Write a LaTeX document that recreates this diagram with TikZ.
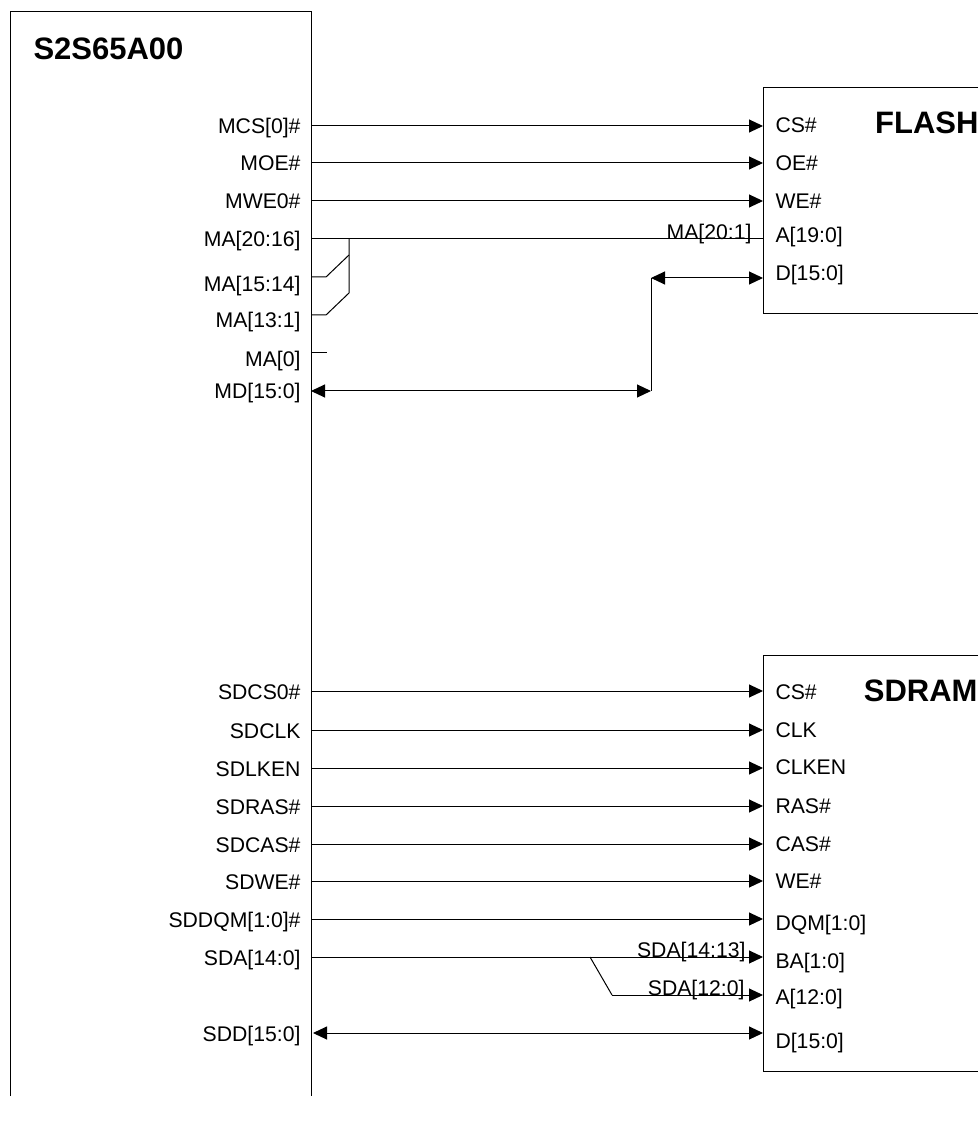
\documentclass[tikz,border=0pt]{standalone}
\usepackage{fontspec}
\setmainfont{Liberation Sans}
\usetikzlibrary{arrows.meta,calc}
\begin{document}
\begin{tikzpicture}[x=0.5pt,y=-0.5pt,line width=0.5pt,
    sig/.style={anchor=east,font=\fontsize{10.6}{12}\selectfont,inner xsep=5pt,inner ysep=0pt,text height=8pt,text depth=0pt},
    pin/.style={anchor=west,font=\fontsize{10.6}{12}\selectfont,inner xsep=6pt,inner ysep=0pt,text height=8pt,text depth=0pt},
    tag/.style={anchor=east,font=\fontsize{10.6}{12}\selectfont,inner sep=0pt,text height=8pt,text depth=0pt},
    ttl/.style={font=\fontsize{15.5}{18}\selectfont\bfseries,inner sep=0pt,text height=11pt,text depth=0pt},
    a/.style={-{Stealth[inset=0pt,length=7pt,width=6.5pt]}},
    b/.style={{Stealth[inset=0pt,length=7pt,width=6.5pt]}-{Stealth[inset=0pt,length=7pt,width=6.5pt]}}]
    \useasboundingbox (0,0) rectangle (978,1122);
    % blocks
    \draw (10,1096) -- (10,12) -- (311,12) -- (311,1096);
    \draw (978,88) -- (763,88) -- (763,314) -- (978,314);
    \draw (978,655) -- (763,655) -- (763,1071) -- (978,1071);
    \node[ttl,anchor=west] (chip) at (33,49) {S2S65A00};
    \node[ttl,anchor=east] (flash) at (979,123) {FLASH};
    \node[ttl,anchor=east] (sdram) at (978,690) {SDRAM};
    % memory controller side
    \node[sig] (mcs) at (311,126) {MCS[0]\#};
    \node[sig] (moe) at (311,163) {MOE\#};
    \node[sig] (mwe) at (311,201) {MWE0\#};
    \node[sig] (mahi) at (311,239) {MA[20:16]};
    \node[sig] (mamid) at (311,284) {MA[15:14]};
    \node[sig] (malo) at (311,320) {MA[13:1]};
    \node[sig] (mazero) at (311,358) {MA[0]};
    \node[sig] (md) at (311,391) {MD[15:0]};
    \node[pin] (fcs) at (763,125) {CS\#};
    \node[pin] (foe) at (763,163) {OE\#};
    \node[pin] (fwe) at (763,201) {WE\#};
    \node[pin] (fa) at (763,235) {A[19:0]};
    \node[pin] (fd) at (763,273) {D[15:0]};
    \node[tag] (fatag) at (752,232) {MA[20:1]};
    \draw[a] (mcs.east) -- (fcs.west |- mcs.east);
    \draw[a] (moe.east) -- (foe.west);
    \draw[a] (mwe.east) -- (fwe.west);
    \draw (mahi.east) -- (fa.west |- mahi.east);
    % address bus branches
    \coordinate (bustop) at (349,239);
    \coordinate (busmid) at (349,255);
    \coordinate (busend) at (349,293);
    \coordinate (stubmid) at (311,277);
    \coordinate (stublo) at (311,315);
    \coordinate (stubzero) at (311,353);
    \draw (bustop) -- (busend) -- (326,315) -- (stublo);
    \draw (busmid) -- (326,277) -- (stubmid);
    \draw (stubzero) -- (327,353);
    % data bus
    \coordinate (mdlow) at (651,391);
    \coordinate (mdup) at (651,278);
    \draw[b] (md.east) -- (mdlow);
    \draw (mdlow) -- (mdup);
    \draw[b] (mdup) -- (fd.west |- mdup);
    % sdram side
    \node[sig] (sdcs) at (311,691) {SDCS0\#};
    \node[sig] (sdclk) at (311,730) {SDCLK};
    \node[sig] (sdken) at (311,768) {SDLKEN};
    \node[sig] (sdras) at (311,806) {SDRAS\#};
    \node[sig] (sdcas) at (311,844) {SDCAS\#};
    \node[sig] (sdwe) at (311,881) {SDWE\#};
    \node[sig] (sddqm) at (311,919) {SDDQM[1:0]\#};
    \node[sig] (sda) at (311,957) {SDA[14:0]};
    \node[sig] (sdd) at (311,1033) {SDD[15:0]};
    \node[pin] (rcs) at (763,691) {CS\#};
    \node[pin] (rclk) at (763,729) {CLK};
    \node[pin] (rken) at (763,766) {CLKEN};
    \node[pin] (rras) at (763,805) {RAS\#};
    \node[pin] (rcas) at (763,843) {CAS\#};
    \node[pin] (rwe) at (763,880) {WE\#};
    \node[pin] (rdqm) at (763,922) {DQM[1:0]};
    \node[pin] (rba) at (763,960) {BA[1:0]};
    \node[pin] (ra) at (763,996) {A[12:0]};
    \node[pin] (rd) at (763,1040) {D[15:0]};
    \node[tag] (batag) at (746,949) {SDA[14:13]};
    \node[tag] (atag) at (745,987) {SDA[12:0]};
    \draw[a] (sdcs.east) -- (rcs.west |- sdcs.east);
    \draw[a] (sdclk.east) -- (rclk.west |- sdclk.east);
    \draw[a] (sdken.east) -- (rken.west |- sdken.east);
    \draw[a] (sdras.east) -- (rras.west |- sdras.east);
    \draw[a] (sdcas.east) -- (rcas.west |- sdcas.east);
    \draw[a] (sdwe.east) -- (rwe.west |- sdwe.east);
    \draw[a] (sddqm.east) -- (rdqm.west |- sddqm.east);
    \draw[a] (sda.east) -- (rba.west |- sda.east);
    \coordinate (sdasplit) at (590,957);
    \coordinate (sdalow) at (612,995);
    \draw (sdasplit) -- (sdalow);
    \draw[a] (sdalow) -- (ra.west |- sdalow);
    \draw[b] ($(sdd.east)+(2,0)$) -- (rd.west |- sdd.east);
\end{tikzpicture}
\end{document}
